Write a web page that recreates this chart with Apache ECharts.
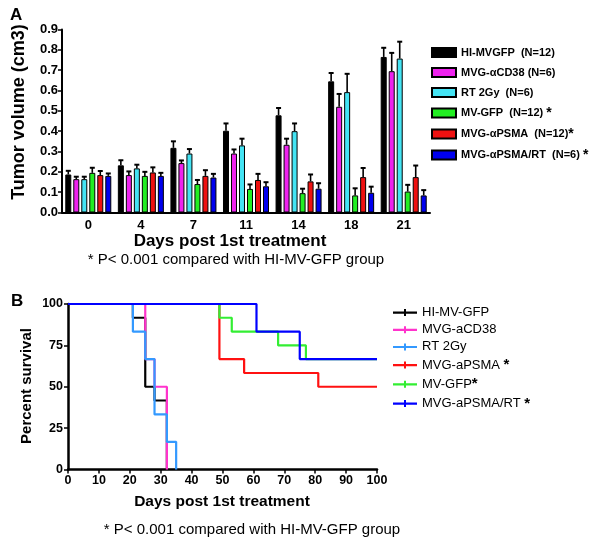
<!DOCTYPE html>
<html>
<head>
<meta charset="utf-8">
<script src="https://cdn.jsdelivr.net/npm/echarts@6/dist/echarts.min.js"></script>
<style>html,body{margin:0;padding:0;background:#fff}#c{width:602px;height:548px}</style>
</head>
<body>
<div id="c"></div>
<script>
// ---- Panel A data ----
const categories = ['0', '4', '7', '11', '14', '18', '21'];
const barNames = ['HI-MVGFP  (N=12)', 'MVG-\u03b1CD38 (N=6)', 'RT 2Gy  (N=6)', 'MV-GFP  (N=12) *', 'MVG-\u03b1PSMA  (N=12)*', 'MVG-\u03b1PSMA/RT  (N=6) *'];
const hiMvgfp      = [0.187, 0.232, 0.318, 0.402, 0.478, 0.645, 0.765];
const hiMvgfpErr   = [0.018, 0.025, 0.032, 0.036, 0.036, 0.041, 0.045];
const mvgCd38      = [0.164, 0.184, 0.243, 0.290, 0.333, 0.520, 0.695];
const mvgCd38Err   = [0.012, 0.018, 0.013, 0.020, 0.030, 0.063, 0.090];
const rt2gy        = [0.164, 0.217, 0.290, 0.330, 0.400, 0.592, 0.757];
const rt2gyErr     = [0.012, 0.018, 0.022, 0.033, 0.038, 0.090, 0.083];
const mvGfp        = [0.195, 0.180, 0.140, 0.116, 0.095, 0.084, 0.103];
const mvGfpErr     = [0.025, 0.020, 0.020, 0.022, 0.022, 0.035, 0.033];
const mvgPsma      = [0.184, 0.197, 0.180, 0.160, 0.153, 0.174, 0.174];
const mvgPsmaErr   = [0.020, 0.025, 0.028, 0.030, 0.034, 0.045, 0.057];
const mvgPsmaRt    = [0.180, 0.180, 0.172, 0.129, 0.117, 0.097, 0.084];
const mvgPsmaRtErr = [0.012, 0.015, 0.018, 0.020, 0.027, 0.030, 0.026];
const yTicksA = [0, 0.1, 0.2, 0.3, 0.4, 0.5, 0.6, 0.7, 0.8, 0.9];

// ---- Panel B data (Kaplan-Meier steps: [day, percent]) ----
const lineNames = ['HI-MV-GFP', 'MVG-aCD38', 'RT 2Gy', 'MVG-aPSMA *', 'MV-GFP*', 'MVG-aPSMA/RT *'];
const kmHiMvGfp   = [[0, 100], [21, 91.7], [25, 50], [28, 41.7], [32, 0]];
const kmMvgCd38   = [[0, 100], [25, 66.7], [28, 50], [32, 0]];
const kmRt2Gy     = [[0, 100], [21, 83.3], [25, 66.7], [28, 33.3], [32, 16.7], [35, 0]];
const kmMvgPsma   = [[0, 100], [49, 66.7], [57, 58.3], [81, 50], [100, 50]];
const kmMvGfp     = [[0, 100], [49, 91.7], [53, 83.3], [68, 75], [77, 66.7], [100, 66.7]];
const kmMvgPsmaRt = [[0, 100], [61, 83.3], [75, 66.7], [100, 66.7]];
const xTicksB = [0, 10, 20, 30, 40, 50, 60, 70, 80, 90, 100];
const yTicksB = [0, 25, 50, 75, 100];

const FONT = 'Liberation Sans, Arial, Helvetica, sans-serif';
const barColors = ['#000000', '#ee22ee', '#44e4f4', '#22ee22', '#ee1111', '#0000ee'];
const lineColors = ['#000000', '#ff33cc', '#3399ff', '#ff1111', '#33ee33', '#0000ff'];

const barValues = [hiMvgfp, mvgCd38, rt2gy, mvGfp, mvgPsma, mvgPsmaRt];
const barErrs = [hiMvgfpErr, mvgCd38Err, rt2gyErr, mvGfpErr, mvgPsmaErr, mvgPsmaRtErr];
const kmData = [kmHiMvGfp, kmMvgCd38, kmRt2Gy, kmMvgPsma, kmMvGfp, kmMvgPsmaRt];

const BAR_W = 6, BAR_PITCH = 8;

const series = [];
barValues.forEach((vals, k) => {
  series.push({
    name: barNames[k], type: 'bar', xAxisIndex: 0, yAxisIndex: 0,
    data: vals, barWidth: BAR_W, barGap: '33.34%',
    itemStyle: { color: barColors[k], borderColor: '#000', borderWidth: 1 },
    silent: true, animation: false
  });
});
const errData = [];
barValues.forEach((vals, k) => {
  vals.forEach((v, i) => errData.push([i, v, barErrs[k][i], k]));
});
series.push({
  type: 'custom', xAxisIndex: 0, yAxisIndex: 0, data: errData, z: 5, silent: true, animation: false,
  renderItem: function (params, api) {
    const c = api.value(0), v = api.value(1), e = api.value(2), k = api.value(3);
    const base = api.coord([c, v]);
    const top = api.coord([c, v + e]);
    const x = base[0] + (k - 2.5) * BAR_PITCH;
    return {
      type: 'group',
      children: [
        { type: 'line', shape: { x1: x, y1: base[1], x2: x, y2: top[1] }, style: { stroke: '#000', lineWidth: 1.6 } },
        { type: 'line', shape: { x1: x - 2.5, y1: top[1], x2: x + 2.5, y2: top[1] }, style: { stroke: '#000', lineWidth: 2 } }
      ]
    };
  }
});
kmData.forEach((d, k) => {
  series.push({
    name: lineNames[k], type: 'line', xAxisIndex: 1, yAxisIndex: 1,
    data: d, step: 'end', symbol: 'none', showSymbol: false,
    lineStyle: { color: lineColors[k], width: 2.2 }, itemStyle: { color: lineColors[k] },
    silent: true, animation: false
  });
});

const option = {
  animation: false,
  backgroundColor: '#fff',
  grid: [
    { left: 62, top: 29.5, width: 368, height: 183 },
    { left: 68, top: 304, width: 309, height: 165.5 }
  ],
  xAxis: [
    {
      gridIndex: 0, type: 'category', data: categories, boundaryGap: true,
      axisLine: { lineStyle: { color: '#000', width: 2 } },
      axisTick: { alignWithLabel: true, length: 4, lineStyle: { color: '#000', width: 1.5 } },
      axisLabel: { color: '#000', fontFamily: FONT, fontWeight: 'bold', fontSize: 13, margin: 6 },
      splitLine: { show: false }
    },
    {
      gridIndex: 1, type: 'value', min: xTicksB[0], max: xTicksB[xTicksB.length - 1], interval: 10,
      axisLine: { onZero: false, lineStyle: { color: '#000', width: 2.5 } },
      axisTick: { show: true, length: 4, lineStyle: { color: '#000', width: 1.5 } },
      axisLabel: { color: '#000', fontFamily: FONT, fontWeight: 'bold', fontSize: 12.5, margin: 5 },
      splitLine: { show: false }
    }
  ],
  yAxis: [
    {
      gridIndex: 0, type: 'value', min: yTicksA[0], max: yTicksA[yTicksA.length - 1], interval: 0.1,
      axisLine: { show: true, lineStyle: { color: '#000', width: 2 } },
      axisTick: { show: true, length: 4, lineStyle: { color: '#000', width: 1.5 } },
      axisLabel: { color: '#000', fontFamily: FONT, fontWeight: 'bold', fontSize: 13, margin: 4,
        formatter: v => v.toFixed(1) },
      splitLine: { show: false }
    },
    {
      gridIndex: 1, type: 'value', min: yTicksB[0], max: yTicksB[yTicksB.length - 1], interval: 25,
      axisLine: { show: true, onZero: false, lineStyle: { color: '#000', width: 2.5 } },
      axisTick: { show: true, length: 4, lineStyle: { color: '#000', width: 1.5 } },
      axisLabel: { color: '#000', fontFamily: FONT, fontWeight: 'bold', fontSize: 12.5, margin: 5 },
      splitLine: { show: false }
    }
  ],
  legend: [
    {
      data: barNames, orient: 'vertical', left: 431, top: 46, padding: 0, itemWidth: 24, itemHeight: 9, itemGap: 7,
      icon: 'rect', selectedMode: false,
      textStyle: { color: '#000', fontFamily: FONT, fontWeight: 'bold', fontSize: 11, lineHeight: 13,
        rich: { s: { fontSize: 14, lineHeight: 13, fontWeight: 'bold', color: '#000' } } },
      formatter: n => n.endsWith('*') ? n.slice(0, -1) + '{s|*}' : n
    },
    {
      data: lineNames, orient: 'vertical', left: 393, top: 306, padding: 0, itemWidth: 24, itemHeight: 10, itemGap: 4.2,
      icon: 'path://M0,4 L24,4 L24,6.2 L0,6.2 Z M11,1.5 L13,1.5 L13,8.5 L11,8.5 Z', selectedMode: false,
      textStyle: { color: '#000', fontFamily: FONT, fontSize: 13, lineHeight: 13,
        rich: { s: { fontSize: 15, lineHeight: 13, fontWeight: 'bold', color: '#000' } } },
      formatter: n => n.endsWith('*') ? n.slice(0, -1) + '{s|*}' : n
    }
  ],
  graphic: [
    { type: 'text', left: 10, top: 7, style: { text: 'A', font: 'bold 17px ' + FONT, fill: '#000' } },
    { type: 'text', left: 11, top: 293, style: { text: 'B', font: 'bold 17px ' + FONT, fill: '#000' } },
    { type: 'text', x: 19, y: 112, rotation: Math.PI / 2,
      style: { text: 'Tumor volume (cm3)', font: 'bold 18px ' + FONT, fill: '#000', align: 'center', verticalAlign: 'middle' } },
    { type: 'text', x: 230, y: 241,
      style: { text: 'Days post 1st treatment', font: 'bold 17px ' + FONT, fill: '#000', align: 'center', verticalAlign: 'middle' } },
    { type: 'text', x: 236, y: 260,
      style: { text: '* P< 0.001 compared with HI-MV-GFP group', font: '15px ' + FONT, fill: '#000', align: 'center', verticalAlign: 'middle' } },
    { type: 'text', x: 27, y: 386, rotation: Math.PI / 2,
      style: { text: 'Percent survival', font: 'bold 15px ' + FONT, fill: '#000', align: 'center', verticalAlign: 'middle' } },
    { type: 'text', x: 222, y: 502,
      style: { text: 'Days post 1st treatment', font: 'bold 15.5px ' + FONT, fill: '#000', align: 'center', verticalAlign: 'middle' } },
    { type: 'text', x: 252, y: 530,
      style: { text: '* P< 0.001 compared with HI-MV-GFP group', font: '15px ' + FONT, fill: '#000', align: 'center', verticalAlign: 'middle' } }
  ],
  series: series
};

const chart = echarts.init(document.getElementById('c'), null, { renderer: 'canvas' });
chart.setOption(option);
</script>
</body>
</html>
